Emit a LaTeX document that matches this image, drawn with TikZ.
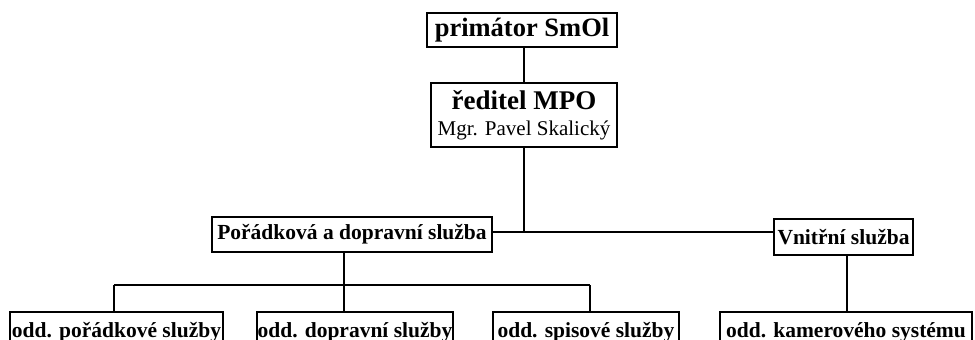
\documentclass[tikz,border=0pt]{standalone}
\usepackage{fontspec}
\setmainfont{Liberation Serif}
\begin{document}
\begin{tikzpicture}[x=1pt,y=-1pt,
  box/.style={draw=black,line width=1.2pt,fill=white,inner sep=0pt,align=center,anchor=center},
  big/.style={font=\fontsize{26.5}{27}\selectfont\bfseries},
  mid/.style={font=\fontsize{21.5}{22}\selectfont\bfseries},
  conn/.style={line width=1.2pt}]
\useasboundingbox (0,0) rectangle (975,340);
\clip (0,0) rectangle (975,340);
% nodes
\node[box,big,minimum width=190pt,minimum height=34pt] (prim) at (522,30) {primátor SmOl};
\node[box,minimum width=186pt,minimum height=64pt,font=\fontsize{21}{26}\selectfont] (red) at (524,115)
  {{\fontsize{27}{26}\selectfont\bfseries ředitel MPO}\\{\fontsize{21}{26}\selectfont Mgr. Pavel Skalický}};
\node[box,mid,minimum width=280pt,minimum height=35pt] (por) at (352,234.5) {Pořádková a dopravní služba};
\node[box,mid,minimum width=139pt,minimum height=36pt] (vni) at (843.5,237) {Vnitřní služba};
\node[box,mid,minimum width=213pt,minimum height=40pt] (b1) at (116.5,332) {odd. pořádkové služby};
\node[box,mid,minimum width=196pt,minimum height=40pt] (b2) at (355,332) {odd. dopravní služby};
\node[box,mid,minimum width=186pt,minimum height=40pt] (b3) at (586,332) {odd. spisové služby};
\node[box,mid,minimum width=252pt,minimum height=40pt] (b4) at (846,332) {odd. kamerového systému};
% coordinates
\coordinate (rx) at (524,0);
\coordinate (pj) at (524,232);
\coordinate (bus) at (0,285);
\coordinate (px) at (344,0);
\coordinate (b1x) at (114,0);
\coordinate (b3x) at (590,0);
\coordinate (vx) at (847,0);
% connectors
\draw[conn] (prim.south -| rx) -- (red.north -| rx);
\draw[conn] (red.south -| rx) -- (pj);
\draw[conn] (por.east |- pj) -- (vni.west |- pj);
\draw[conn] (por.south -| px) -- (px |- bus);
\draw[conn] (b1x |- bus) -- (b3x |- bus);
\draw[conn] (b1x |- bus) -- (b1.north -| b1x);
\draw[conn] (px |- bus) -- (b2.north -| px);
\draw[conn] (b3x |- bus) -- (b3.north -| b3x);
\draw[conn] (vni.south -| vx) -- (b4.north -| vx);
\end{tikzpicture}
\end{document}
